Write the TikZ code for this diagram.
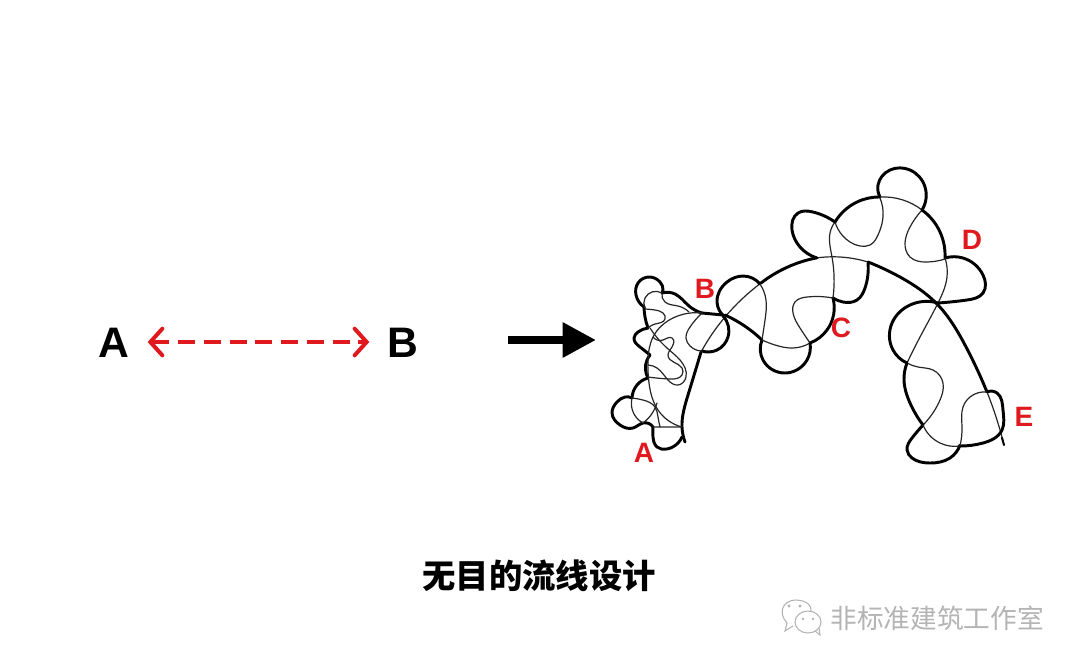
\documentclass[tikz,border=0pt]{standalone}
\usepackage{fontspec}
\setmainfont{Liberation Sans}
\newfontfamily\cjk{Noto Sans CJK SC}
\usetikzlibrary{arrows.meta,hobby}
\definecolor{redl}{HTML}{E0191F}
\definecolor{wm}{HTML}{B4B4B4}
\tikzset{
  x=0.75pt,y=-0.75pt,
  thk/.style={line width=2.2pt,black,line cap=round,line join=round,use Hobby shortcut},
  thn/.style={line width=0.9pt,black!85,line cap=round,line join=round,use Hobby shortcut},
  biglabel/.style={font=\fontsize{32}{32}\selectfont\bfseries,black,inner sep=0pt,text height=23pt,text depth=0pt},
  redlabel/.style={font=\fontsize{21}{21}\selectfont\bfseries,redl,inner sep=0pt},
  titlelabel/.style={font=\cjk\bfseries\fontsize{25}{25}\selectfont,black,inner sep=0pt},
  wmlabel/.style={font=\cjk\fontsize{20}{20}\selectfont,inner sep=0pt},
  dasharrow/.style={line width=3pt,redl,line cap=butt,dash pattern=on 12.8pt off 6.5pt,
    {Straight Barb[length=9pt,width=20pt,line width=3pt,line cap=round]}-{Straight Barb[length=9pt,width=20pt,line width=3pt,line cap=round]}},
  bigarrow/.style={line width=6pt,black,-{Triangle[length=25pt,width=25pt]}},
  wmline/.style={line width=0.8pt,wm},
}
\begin{document}
\begin{tikzpicture}
\useasboundingbox (0,0) rectangle (1080,665);
\fill[white] (0,0) rectangle (1080,665);
% left
\node[biglabel] (na) at (114,342) {A};
\node[biglabel] (nb) at (403,342) {B};
\draw[dasharrow,shorten <=13.5pt,shorten >=13.5pt] (na.east) -- (nb.west);
\coordinate (s) at (508,340);
\coordinate (e) at (596,340);
\draw[bigarrow] (s) -- (e);
% main arch
\draw[thk] (685,442)..(682,427)..(688,395)..(701,352);
\draw[thn] (701,352)..(725,317)..(761,283);
\draw[thk] (761,283)..(790,266)..(816,258);
\draw[thn] (816,258)..(840,257)..(868,262);
\draw[thk] (868,262)..(900,277)..(938,305)..(965,345)..(987,392);
\draw[thn] (987,392)..(997,420)..(1004,445);
\draw[line width=1.5pt,line cap=round] (1002,438) -- (1004,445);
% outer thick, left cluster
\draw[thk] (682,437)..(678,443)..(667,449)..(657,447)..(653,437)..(653,427);
\draw[thk] (653,427)..(643,423)..(633,428)..(620,425)..(612,413)..(617,402)..(625,397)..(632,398);
\draw[thk] (632,398)..(637,385)..(648,378);
\draw[thk] (648,378)..(647,360)..(650,355);
\draw[thk] (650,355)..(640,347)..(634,338)..(638,332)..(648,328);
\draw[thk] (648,328)..(645,317)..(644,307);
\draw[thk] (644,307)..(636,295)..(638,283)..(650,277)..(660,282)..(663,290)..(662,293);
\draw[thk] (662,293)..(675,294)..(689,306)..(702,313);
\draw[thk] (702,313)..(723,315);
\draw[thk] (723,316)..(728,337)..(717,350)..(702,351);
\draw[thk] (725,317)..(717,302)..(727,282)..(743,276)..(760,284);
\draw[thk] (725,315)..(740,323)..(762,340);
% thin, left cluster
\draw[thn] (702,313)..(673,318)..(653,337)..(648,360)..(649,383)..(658,410)..(682,427);
\draw[thn] (702,351)..(690,346)..(686,338)..(690,327)..(702,313);
\draw[thn] (645,309)..(655,310)..(663,313)..(665,319)..(655,324)..(648,328);
\draw[thn] (662,293)..(645,298)..(645,308);
\draw[thn] (662,293)..(665,302)..(678,306)..(689,312);
\draw[thn] (653,337)..(663,340)..(672,338)..(670,350)..(668,355)..(682,368)..(682,375)..(670,379)..(648,377);
\draw[thn] (650,328)..(667,348)..(680,360)..(686,377)..(678,385)..(668,380)..(657,368)..(648,365);
\draw[thn] (632,398)..(643,400)..(655,407)..(658,417)..(660,427);
\draw[thn] (632,398)..(634,414)..(643,423);
\draw[thn] (643,423)..(653,412)..(657,403);
\draw[thn] (653,427)..(682,427);
% middle
\draw[thn] (760,284)..(766,300)..(765,320)..(762,340);
\draw[thk] (762,340)..(763,360)..(785,373)..(807,360)..(810,343);
\draw[thn] (762,340)..(775,345)..(793,348)..(810,343);
\draw[thn] (810,343)..(800,328)..(793,313)..(795,302)..(807,297)..(833,298);
\draw[thk] (810,343)..(827,330)..(833,298);
\draw[thk] (833,298)..(843,302)..(857,300)..(865,288)..(868,263);
\draw[thn] (833,298)..(832,257)..(830,233)..(835,222);
\draw[thk] (817,258)..(800,247)..(792,230)..(798,213)..(813,212)..(835,222);
\draw[thn] (835,222)..(842,235)..(860,246)..(870,245)..(878,235)..(883,217)..(880,198);
\draw[thk] (835,222)..(857,202)..(880,197);
% top and right
\draw[thk] (880,197)..(878,185)..(890,170)..(910,170)..(925,187)..(922,210);
\draw[thn] (880,197)..(903,200)..(922,210);
\draw[thn] (922,210)..(910,227)..(905,243)..(910,257)..(927,262)..(945,259);
\draw[thk] (922,210)..(938,228)..(945,258);
\draw[thk] (945,258)..(963,258)..(983,275)..(983,293)..(967,300)..(938,303);
\draw[thn] (945,258)..(947,277)..(938,303)..(920,337)..(907,363);
\draw[thk] (938,303)..(910,305)..(892,323)..(893,350)..(907,363);
\draw[thn] (907,363)..(918,367)..(933,370)..(943,383)..(940,400)..(923,425);
\draw[thk] (907,363)..(904,380)..(910,403)..(923,425);
\draw[thk] (923,425)..(912,438)..(907,450)..(912,458)..(930,463)..(950,458)..(960,445);
\draw[thn] (923,425)..(940,443)..(960,446);
\draw[thk] (960,446)..(983,443)..(1002,430)..(1003,410)..(997,393)..(987,392);
\draw[thn] (960,446)..(962,427)..(963,407)..(970,397)..(987,392);
% red labels
\node[redlabel] (la) at (644,453) {A};
\node[redlabel] (lb) at (705,289) {B};
\node[redlabel] (lc) at (841,328) {C};
\node[redlabel] (ld) at (972,240) {D};
\node[redlabel] (le) at (1024,417) {E};
% title
\node[titlelabel] (title) at (539,576) {无目的流线设计};
% watermark
\draw[wmline] (787,623) .. controls (778,613) and (782,601) .. (795,600) .. controls (807,600) and (812,606) .. (811,611);
\draw[wmline] (787,623) -- (785,631) -- (793,626);
\draw[wmline,fill=white] (808,622) ellipse (13 and 11);
\draw[wmline] (815,631) -- (820,635) -- (819,628);
\fill[wm] (789,606) circle (1.6) (800,606) circle (1.6) (803,619) circle (1.3) (813,619) circle (1.3);
\node[wmlabel,wm] (wmark) at (937,618) {非标准建筑工作室};
\end{tikzpicture}
\end{document}
